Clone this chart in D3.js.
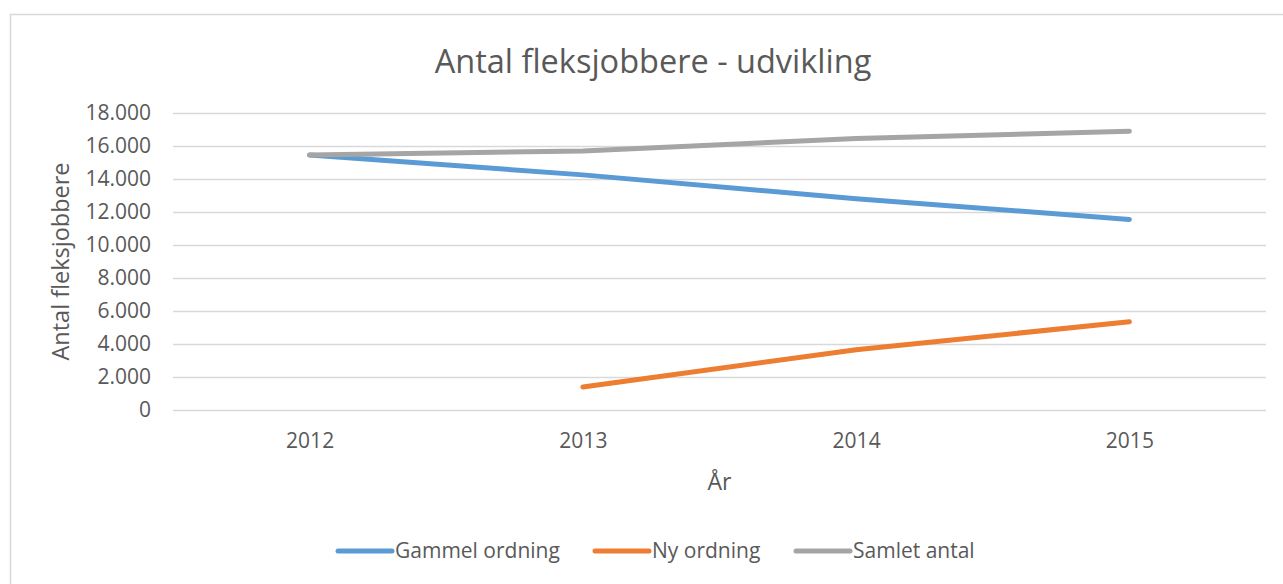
<!DOCTYPE html>
<html>
<head>
<meta charset="utf-8">
<script src="https://cdn.jsdelivr.net/npm/d3@7"></script>
<style>
  html, body { margin: 0; padding: 0; background: #fff; overflow: hidden; }
  svg { display: block; }
  text { font-family: "Open Sans", sans-serif; fill: #595959; }
</style>
</head>
<body>
<div id="chart-div"></div>
<script>
// data
const years = ['2012', '2013', '2014', '2015'];
const gammelOrdning = [15450, 14250, 12800, 11550];
const nyOrdning = [null, 1400, 3650, 5350];
const samletAntal = [15450, 15700, 16450, 16900];
const yTicks = [0, 2000, 4000, 6000, 8000, 10000, 12000, 14000, 16000, 18000];
const seriesNames = ['Gammel ordning', 'Ny ordning', 'Samlet antal'];
const seriesColors = ['#5B9BD5', '#ED7D31', '#A5A5A5'];

const width = 1283
const height = 584

const svg = d3.select('#chart-div').append('svg')
    .attr('width', width)
    .attr('height', height);

// chart frame: only top and left edges are visible in the picture
svg.append('path')
    .attr('d', `M10.5,${height} V14.5 H${width}`)
    .attr('fill', 'none')
    .attr('stroke', '#D9D9D9')
    .attr('stroke-width', 1.5);

const margin = { top: 113, right: 17, bottom: 174, left: 173 };
const innerWidth = width - margin.left - margin.right;
const innerHeight = height - margin.top - margin.bottom;

const xScale = d3.scalePoint()
    .domain(years)
    .range([0, innerWidth])
    .padding(0.5);

const yScale = d3.scaleLinear()
    .domain([0, 18000])
    .range([innerHeight, 0]);

const g = svg.append('g')
    .attr('transform', `translate(${margin.left},${margin.top})`);

const fmt = d => d3.format(',')(d).replace(/,/g, '.');

const yAxis = d3.axisLeft(yScale)
    .tickValues(yTicks)
    .tickSize(-innerWidth)
    .tickPadding(22)
    .tickFormat(fmt);

const yAxisG = g.append('g').call(yAxis);
yAxisG.select('.domain').remove();
yAxisG.selectAll('line').attr('stroke', '#D9D9D9').attr('stroke-width', 1.5);
yAxisG.selectAll('text')
    .attr('font-size', '21px')
    .attr('fill', '#595959');

const xAxis = d3.axisBottom(xScale)
    .tickSize(0)
    .tickPadding(23);

const xAxisG = g.append('g').call(xAxis)
    .attr('transform', `translate(0,${innerHeight})`);
xAxisG.select('.domain').remove();
xAxisG.selectAll('text')
    .attr('font-size', '21px')
    .attr('fill', '#595959');

// axis titles
g.append('text')
    .attr('x', innerWidth / 2)
    .attr('y', innerHeight + 80)
    .attr('text-anchor', 'middle')
    .attr('font-size', '23px')
    .text('År');

g.append('text')
    .attr('transform', `rotate(-90)`)
    .attr('x', -innerHeight / 2)
    .attr('y', -104)
    .attr('text-anchor', 'middle')
    .attr('font-size', '23.5px')
    .text('Antal fleksjobbere');

// title
svg.append('text')
    .attr('x', 653)
    .attr('y', 73)
    .attr('text-anchor', 'middle')
    .attr('font-size', '32.5px')
    .text('Antal fleksjobbere - udvikling');

const series = [gammelOrdning, nyOrdning, samletAntal];

const line = d3.line()
    .defined(d => d.value !== null)
    .x(d => xScale(d.year))
    .y(d => yScale(d.value));

// gray drawn last like the reference (it sits on top of blue at 2012)
series.forEach((values, i) => {
    const pts = years.map((y, j) => ({ year: y, value: values[j] }));
    g.append('path')
        .datum(pts)
        .attr('fill', 'none')
        .attr('stroke', seriesColors[i])
        .attr('stroke-width', 5)
        .attr('stroke-linecap', 'round')
        .attr('stroke-linejoin', 'round')
        .attr('d', line);
});

// legend
const legendX = [338, 595, 796];
const legend = svg.append('g').attr('class', 'legend');
seriesNames.forEach((name, i) => {
    legend.append('line')
        .attr('x1', legendX[i]).attr('x2', legendX[i] + 54)
        .attr('y1', 551).attr('y2', 551)
        .attr('stroke', seriesColors[i])
        .attr('stroke-width', 5)
        .attr('stroke-linecap', 'round');
    legend.append('text')
        .attr('x', legendX[i] + 57)
        .attr('y', 558)
        .attr('font-size', '21px')
        .text(name);
});
</script>
</body>
</html>
